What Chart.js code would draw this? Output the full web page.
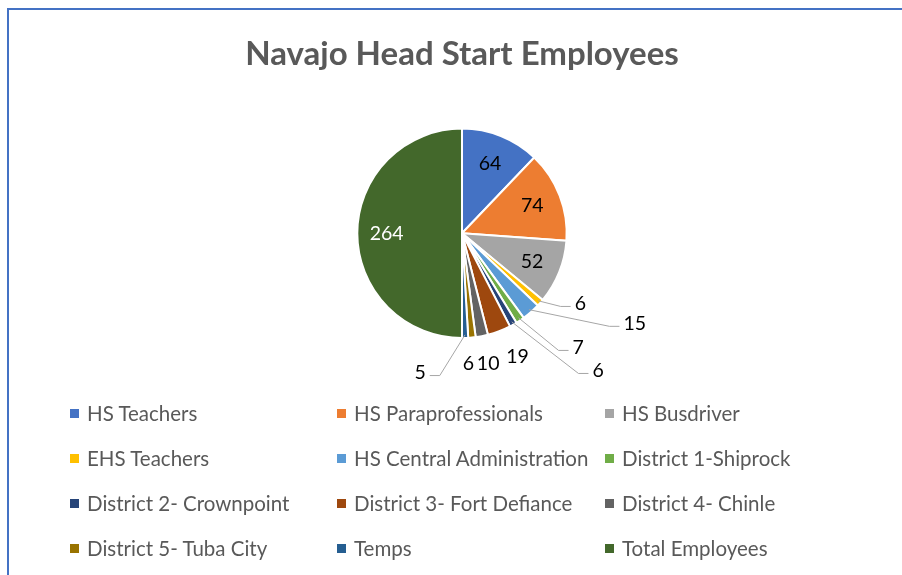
<!DOCTYPE html>
<html>
<head>
<meta charset="utf-8">
<script src="https://cdn.jsdelivr.net/npm/chart.js@4.4.0/dist/chart.umd.min.js"></script>
<style>
  html, body { margin: 0; padding: 0; background: #fff; }
  body { width: 902px; height: 575px; overflow: hidden; position: relative; font-family: Lato, "Open Sans", sans-serif; }
  #frame { position: absolute; left: 7px; top: 8px; width: 1000px; height: 1000px; border: 2px solid #4472c4; box-sizing: border-box; }
  #wrap { position: absolute; left: 0; top: 0; width: 902px; height: 575px; }
  #legend { position: absolute; left: 0; top: 0; }
  .item { position: absolute; font-size: 20.5px; color: #595959; white-space: nowrap; line-height: 22px; }
  .box { position: absolute; width: 9px; height: 9px; top: 7px; left: -17px; }
</style>
</head>
<body>
<div id="frame"></div>
<div id="wrap"><canvas id="pieChart" width="902" height="575"></canvas></div>
<div id="legend"></div>
<script>
// Data
const categories = [
  "HS Teachers", "HS Paraprofessionals", "HS Busdriver",
  "EHS Teachers", "HS Central Administration", "District 1-Shiprock",
  "District 2- Crownpoint", "District 3- Fort Defiance", "District 4- Chinle",
  "District 5- Tuba City", "Temps", "Total Employees"
];
const employees = [64, 74, 52, 6, 15, 7, 6, 19, 10, 6, 5, 264];
const sliceColors = [
  "#4472c4", "#ed7d31", "#a5a5a5", "#ffc000", "#5b9bd5", "#70ad47",
  "#264478", "#9e480e", "#636363", "#997300", "#255e91", "#43682b"
];

// label placement (null = inside the slice), factors of the radius from the centre
const labelPlace = [
  null, null, null,
  { fx: 1.13, fy: 0.67, leader: "right" },
  { fx: 1.65, fy: 0.86, leader: "right" },
  { fx: 1.11, fy: 1.09, leader: "right" },
  { fx: 1.30, fy: 1.31, leader: "right" },
  { fx: 0.53, fy: 1.18 },
  { fx: 0.25, fy: 1.25 },
  { fx: 0.06, fy: 1.25 },
  { fx: -0.40, fy: 1.33, leader: "left" },
  null
];

// legend grid: 3 columns x 4 rows
const legendCols = [87, 354, 622];
const legendRows = [402, 447, 492, 537];

function buildLegend() {
  const el = document.getElementById("legend");
  categories.forEach((name, i) => {
    const item = document.createElement("div");
    item.className = "item";
    item.style.left = legendCols[i % 3] + "px";
    item.style.top = legendRows[Math.floor(i / 3)] + "px";
    const box = document.createElement("span");
    box.className = "box";
    box.style.background = sliceColors[i];
    item.appendChild(box);
    item.appendChild(document.createTextNode(name));
    el.appendChild(item);
  });
}

const sliceLabels = {
  id: "sliceLabels",
  afterDatasetsDraw(chart) {
    const ctx = chart.ctx;
    const meta = chart.getDatasetMeta(0);
    ctx.save();
    ctx.font = "19.5px Lato";
    ctx.textAlign = "center";
    ctx.textBaseline = "middle";
    meta.data.forEach((arc, i) => {
      const p = arc.getProps(["x", "y", "startAngle", "endAngle", "outerRadius"], true);
      const mid = (p.startAngle + p.endAngle) / 2;
      const r = p.outerRadius;
      const text = String(employees[i]);
      const place = labelPlace[i];
      if (!place) {
        ctx.fillStyle = i === employees.length - 1 ? "#ffffff" : "#000000";
        ctx.fillText(text, p.x + Math.cos(mid) * r * 0.72, p.y + Math.sin(mid) * r * 0.72);
        return;
      }
      const lx = p.x + place.fx * r;
      const ly = p.y + place.fy * r;
      if (place.leader) {
        const w = ctx.measureText(text).width;
        const ex = p.x + Math.cos(mid) * r * 0.97;
        const ey = p.y + Math.sin(mid) * r * 0.97;
        const dir = place.leader === "right" ? -1 : 1;
        const endX = lx + dir * (w / 2 + 4);
        const elbowX = endX + dir * 10;
        ctx.strokeStyle = "#a6a6a6";
        ctx.lineWidth = 1;
        ctx.beginPath();
        ctx.moveTo(ex, ey);
        ctx.lineTo(elbowX, ly + 3);
        ctx.lineTo(endX, ly + 3);
        ctx.stroke();
      }
      ctx.fillStyle = "#000000";
      ctx.fillText(text, lx, ly);
    });
    ctx.restore();
  }
};

const chart = new Chart(document.getElementById("pieChart"), {
  type: "pie",
  data: {
    labels: categories,
    datasets: [{
      data: employees,
      backgroundColor: sliceColors,
      borderColor: "#ffffff",
      borderWidth: 2
    }]
  },
  options: {
    responsive: false,
    animation: false,
    layout: { padding: { top: 35, bottom: 236, left: 22, right: 0 } },
    plugins: {
      legend: { display: false },
      tooltip: { enabled: false },
      title: {
        display: true,
        text: "Navajo Head Start Employees",
        color: "#595959",
        font: { family: "Lato", size: 33, weight: "bold", lineHeight: 1.2 },
        padding: { top: 0, bottom: 53 }
      }
    }
  },
  plugins: [sliceLabels]
});

buildLegend();
</script>
</body>
</html>
